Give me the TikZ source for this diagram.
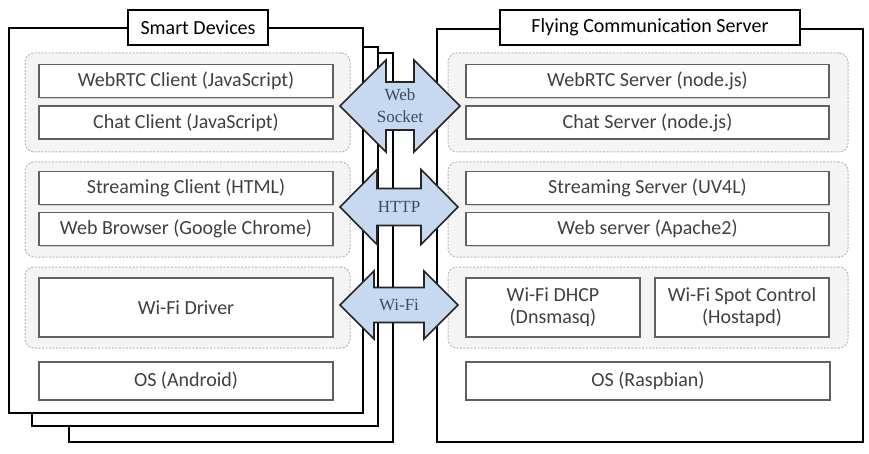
\documentclass[tikz,border=0pt]{standalone}
\usepackage{fontspec}
\setmainfont{Carlito}
\newfontfamily\labelfont{Liberation Serif}
\usetikzlibrary{shadows}
\definecolor{arrowblue}{RGB}{198,217,241}
\definecolor{boxtext}{RGB}{64,64,64}
\definecolor{labeltext}{RGB}{62,74,96}

\begin{document}
\begin{tikzpicture}[
    x=1pt, y=-1pt,
    every node/.style={font=\fontsize{20}{22}\selectfont, text=boxtext},
    % Frames and titles
    frame/.style={rectangle, draw=black, fill=white, line width=2.2pt, inner sep=0pt},
    title/.style={rectangle, draw=black, fill=white, line width=2pt, minimum height=35pt, inner sep=0pt, text=black},
    % Layer groups and boxes
    group/.style={rectangle, rounded corners=9pt, draw=gray!55, dash pattern=on 2pt off 1.5pt, line width=1pt, fill=gray!9, inner sep=0pt},
    layer/.style={rectangle, draw=gray!75!black, line width=1.2pt, fill=white, inner sep=0pt, align=center, minimum height=33pt,
        drop shadow={shadow xshift=1pt, shadow yshift=-1.2pt, opacity=0.3}},
    % Protocol arrows
    link/.style={draw=black!85, line width=1.6pt, fill=arrowblue, line join=miter},
    linklabel/.style={align=center, inner sep=0pt, font=\labelfont\fontsize{17}{22}\selectfont, text=labeltext}
]
\useasboundingbox (0,0) rectangle (869,454);

% Smart devices (stacked frames)
\node[frame, minimum width=324pt, minimum height=389pt] (dev3) at (231,247.5) {};
\node[frame, minimum width=346pt, minimum height=379pt] (dev2) at (205,236.5) {};
\node[frame, minimum width=354pt, minimum height=385pt] (dev1) at (186,220.5) {};
\node[title, minimum width=140pt] (devtitle) at (198,27.5) {Smart Devices};

% Flying communication server
\node[frame, minimum width=426pt, minimum height=413pt] (srv) at (650,235.5) {};
\node[title, minimum width=300pt] (srvtitle) at (650,27.5) {Flying Communication Server};

% Groups - client side
\node[group, minimum width=325pt, minimum height=99pt] (cgrp1) at (187.5,102.5) {};
\node[group, minimum width=325pt, minimum height=95pt] (cgrp2) at (187.5,209.5) {};
\node[group, minimum width=325pt, minimum height=81pt] (cgrp3) at (187.5,307.5) {};

% Groups - server side
\node[group, minimum width=400pt, minimum height=99pt] (sgrp1) at (648,102.5) {};
\node[group, minimum width=400pt, minimum height=95pt] (sgrp2) at (648,209.5) {};
\node[group, minimum width=400pt, minimum height=81pt] (sgrp3) at (648,307.5) {};

% Client layers
\node[layer, minimum width=294pt] (webrtcc) at (186,81) {WebRTC Client (JavaScript)};
\node[layer, minimum width=294pt] (chatc) at (186,122.5) {Chat Client (JavaScript)};
\node[layer, minimum width=294pt] (streamc) at (186,188) {Streaming Client (HTML)};
\node[layer, minimum width=294pt] (browser) at (186,229) {Web Browser (Google Chrome)};
\node[layer, minimum width=294pt, minimum height=59pt] (wifidrv) at (186,307.5) {Wi-Fi Driver};
\node[layer, minimum width=294pt, minimum height=38pt] (android) at (186,381) {OS (Android)};

% Server layers
\node[layer, minimum width=363pt] (webrtcs) at (647.5,81) {WebRTC Server (node.js)};
\node[layer, minimum width=363pt] (chats) at (647.5,122.5) {Chat Server (node.js)};
\node[layer, minimum width=363pt] (streams) at (647.5,188) {Streaming Server (UV4L)};
\node[layer, minimum width=363pt] (apache) at (647.5,229) {Web server (Apache2)};
\node[layer, minimum width=174pt, minimum height=59pt] (dhcp) at (553,307.5) {Wi-Fi DHCP\\(Dnsmasq)};
\node[layer, minimum width=174pt, minimum height=59pt] (hostapd) at (742,307.5) {Wi-Fi Spot Control\\(Hostapd)};
\node[layer, minimum width=364pt, minimum height=38pt] (raspbian) at (648,381) {OS (Raspbian)};

% Protocols between the two sides
\coordinate (ws) at (400,106);
\coordinate (ht) at (399,207);
\coordinate (wf) at (399,305);
\draw[link, shift={(ws)}] (-60,0) -- (-14,-46) -- (-14,-24) -- (14,-24) -- (14,-46) -- (60,0)
    -- (14,46) -- (14,24) -- (-14,24) -- (-14,46) -- cycle;
\draw[link, shift={(ht)}] (-59,0) -- (-22,-37.5) -- (-22,-18.5) -- (22,-18.5) -- (22,-37.5) -- (59,0)
    -- (22,37.5) -- (22,18.5) -- (-22,18.5) -- (-22,37.5) -- cycle;
\draw[link, shift={(wf)}] (-59,0) -- (-25,-34) -- (-25,-17.5) -- (25,-17.5) -- (25,-34) -- (59,0)
    -- (25,34) -- (25,17.5) -- (-25,17.5) -- (-25,34) -- cycle;
\node[linklabel] (websock) at (ws) {Web\\Socket};
\node[linklabel] (http) at (ht) {HTTP};
\node[linklabel] (wifi) at (wf) {Wi-Fi};

\end{tikzpicture}
\end{document}
